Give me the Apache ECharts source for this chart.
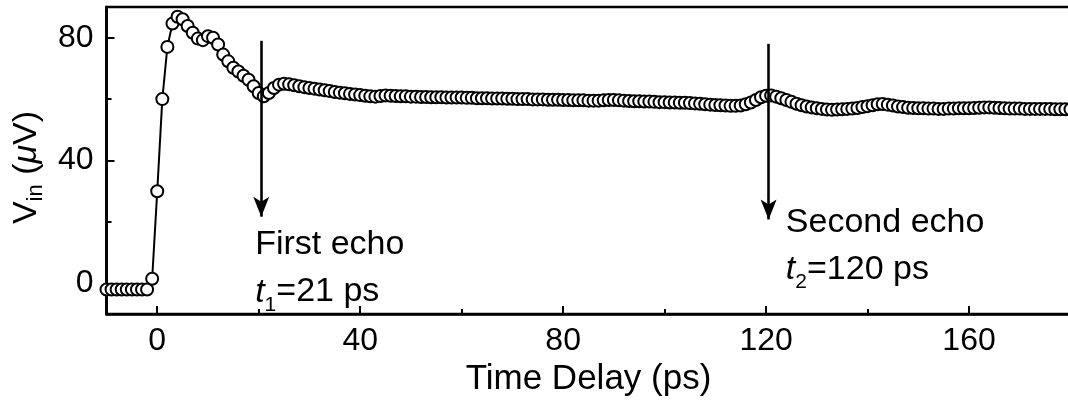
<!DOCTYPE html>
<html><head><meta charset="utf-8">
<script src="https://cdn.jsdelivr.net/npm/echarts@6/dist/echarts.min.js"></script>
<style>html,body{margin:0;padding:0;background:#fff;overflow:hidden}#c{width:1068px;height:402px}</style>
</head><body><div id="c"></div>
<script>
// sampling grid of the measured trace (ps)
const timeStart = -10;
const timeStep = 1;
// V_in (µV) at each sample, from t = -10 ps to t = 180 ps
const signal = [
  -2,-2,-2,-2,-2,-2,-2,-2,-2,1.5,
  30,60,77,84.6,86.8,86,83.8,81.6,79.7,79.2,
  80.5,80,77.8,74.5,72.3,70.2,69,67.6,66.3,64.2,
  62,60.9,62,63.6,64.7,65,64.8,64.5,64.2,63.9,
  63.6,63.4,63.1,62.9,62.6,62.3,62.1,61.9,61.7,61.5,
  61.3,61.1,60.9,60.8,61.0,61.2,61.1,61.0,60.9,60.9,
  60.8,60.8,60.7,60.7,60.6,60.6,60.6,60.5,60.5,60.5,
  60.5,60.4,60.4,60.3,60.3,60.3,60.2,60.2,60.2,60.1,
  60.1,60.0,60.0,60.0,59.9,59.9,59.9,59.8,59.8,59.8,
  59.7,59.7,59.6,59.6,59.6,59.5,59.5,59.5,59.6,59.7,
  59.7,59.6,59.5,59.4,59.3,59.3,59.2,59.2,59.1,59.0,
  59.0,58.9,58.9,58.8,58.8,58.7,58.6,58.5,58.3,58.2,
  58.1,58.0,57.9,57.8,57.8,57.9,58.3,58.9,59.7,60.6,
  61.1,61.2,60.8,60.3,59.7,59.1,58.5,58.0,57.6,57.3,
  57.0,56.8,56.6,56.5,56.6,56.7,56.8,56.9,57.1,57.4,
  57.7,58.0,58.3,58.4,58.2,57.9,57.6,57.4,57.2,57.1,
  57.0,57.0,56.9,56.9,56.8,56.8,56.9,56.9,57.0,57.0,
  57.0,57.1,57.2,57.3,57.3,57.2,57.1,57.0,56.9,56.9,
  56.9,56.8,56.8,56.8,56.8,56.8,56.8,56.7,56.7,56.7,
  56.7
];
const xRange = [-10, 180];
const yRange = [-10, 90];
const xMajorTicks = [0, 40, 80, 120, 160];
const xMinorTicks = [20, 60, 100, 140];
const yMajorTicks = [0, 40, 80];
const yMinorTicks = [20, 60];
const xTitle = 'Time Delay (ps)';
// echo arrows: x position, start value, tip value
const arrowX = [20.5, 120.5];
const arrowFrom = [79, 78];
const arrowTo = [21.7, 20.8];
// echo notes: anchor (top-left) in data units
const noteX = [19.3, 123.9];
const noteY = [20.1, 27.4];
const noteTitle = ['First echo', 'Second echo'];
const noteSub = ['1', '2'];
const noteValue = ['=21 ps', '=120 ps'];

const FONT = '"Liberation Sans", Arial, sans-serif';
const W = 1068, H = 402;
const G = {left: 106.5, width: 964, top: 7, bottom: 88};
const gridW = G.width;
const gridH = H - G.top - G.bottom;

const points = signal.map((v, i) => [timeStart + i * timeStep, v]);

const chart = echarts.init(document.getElementById('c'), null, {renderer: 'canvas'});
const axisLineStyle = {color: '#000', width: 2.6};
const richNote = {
  n: {fontSize: 34, fontFamily: FONT, color: '#000', lineHeight: 47},
  it: {fontSize: 34, fontFamily: FONT, fontStyle: 'italic', color: '#000', lineHeight: 47},
  sub: {fontSize: 21, fontFamily: FONT, color: '#000', lineHeight: 30, verticalAlign: 'bottom'}
};
chart.setOption({
  animation: false,
  backgroundColor: '#fff',
  grid: {left: G.left, width: G.width, top: G.top, bottom: G.bottom, show: true,
         outerBoundsMode: 'none',
         borderColor: '#000', borderWidth: 2.6, backgroundColor: 'transparent', containLabel: false},
  xAxis: [{
    type: 'value', min: xRange[0], max: xRange[1], position: 'bottom',
    axisLine: {show: true, onZero: false, lineStyle: axisLineStyle},
    axisTick: {show: true, inside: true, length: 8, lineStyle: {color: '#000', width: 2}, customValues: xMajorTicks},
    axisLabel: {show: true, customValues: xMajorTicks, fontSize: 32, fontFamily: FONT, color: '#000', margin: 11},
    splitLine: {show: false},
    name: xTitle, nameLocation: 'middle', nameGap: 46,
    nameTextStyle: {fontSize: 35, fontFamily: FONT, color: '#000'}
  }, {
    type: 'value', min: xRange[0], max: xRange[1], position: 'top', offset: -gridH,
    axisLine: {show: false, onZero: false},
    axisTick: {show: true, inside: false, length: 5, lineStyle: {color: '#000', width: 2}, customValues: xMinorTicks},
    axisLabel: {show: false}, splitLine: {show: false}
  }],
  yAxis: [{
    type: 'value', min: yRange[0], max: yRange[1], position: 'left',
    axisLine: {show: true, onZero: false, lineStyle: axisLineStyle},
    axisTick: {show: true, inside: true, length: 8, lineStyle: {color: '#000', width: 2}, customValues: yMajorTicks},
    axisLabel: {show: true, customValues: yMajorTicks, fontSize: 32, fontFamily: FONT, color: '#000', margin: 13},
    splitLine: {show: false},
    name: '{v|V}{s|in}{v| (}{mu|μ}{v|V)}', nameLocation: 'middle', nameGap: 48,
    nameTextStyle: {
      color: '#000', padding: [0, 14, 0, 0],
      rich: {
        v: {fontSize: 34, fontFamily: FONT, color: '#000', lineHeight: 40},
        mu: {fontSize: 34, fontFamily: FONT, fontStyle: 'italic', color: '#000', lineHeight: 40},
        s: {fontSize: 22, fontFamily: FONT, color: '#000', lineHeight: 26, verticalAlign: 'bottom'}
      }
    }
  }, {
    type: 'value', min: yRange[0], max: yRange[1], position: 'right', offset: -gridW,
    axisLine: {show: false, onZero: false},
    axisTick: {show: true, inside: false, length: 5, lineStyle: {color: '#000', width: 2}, customValues: yMinorTicks},
    axisLabel: {show: false}, splitLine: {show: false}
  }],
  series: [{
    type: 'line', xAxisIndex: 0, yAxisIndex: 0,
    data: points,
    symbol: 'circle', symbolSize: 12, showAllSymbol: true,
    itemStyle: {color: '#fff', borderColor: '#000', borderWidth: 2},
    lineStyle: {color: '#000', width: 2},
    clip: false, silent: true,
    markLine: {
      silent: true, animation: false,
      symbol: ['none', 'arrow'], symbolSize: [12, 20],
      label: {show: false},
      lineStyle: {color: '#000', width: 2.6, type: 'solid'},
      data: arrowX.map((x, i) => [{coord: [x, arrowFrom[i]]}, {coord: [x, arrowTo[i]]}])
    },
    markPoint: {
      silent: true, animation: false,
      symbol: 'circle', symbolSize: 0,
      data: noteX.map((x, i) => ({
        coord: [x, noteY[i]],
        label: {
          show: true, position: [0, 0], align: 'left', verticalAlign: 'top',
          formatter: '{n|' + noteTitle[i] + '}\n{it|t}{sub|' + noteSub[i] + '}{n|' + noteValue[i] + '}',
          rich: richNote
        }
      }))
    }
  }]
});
</script>
</body></html>
